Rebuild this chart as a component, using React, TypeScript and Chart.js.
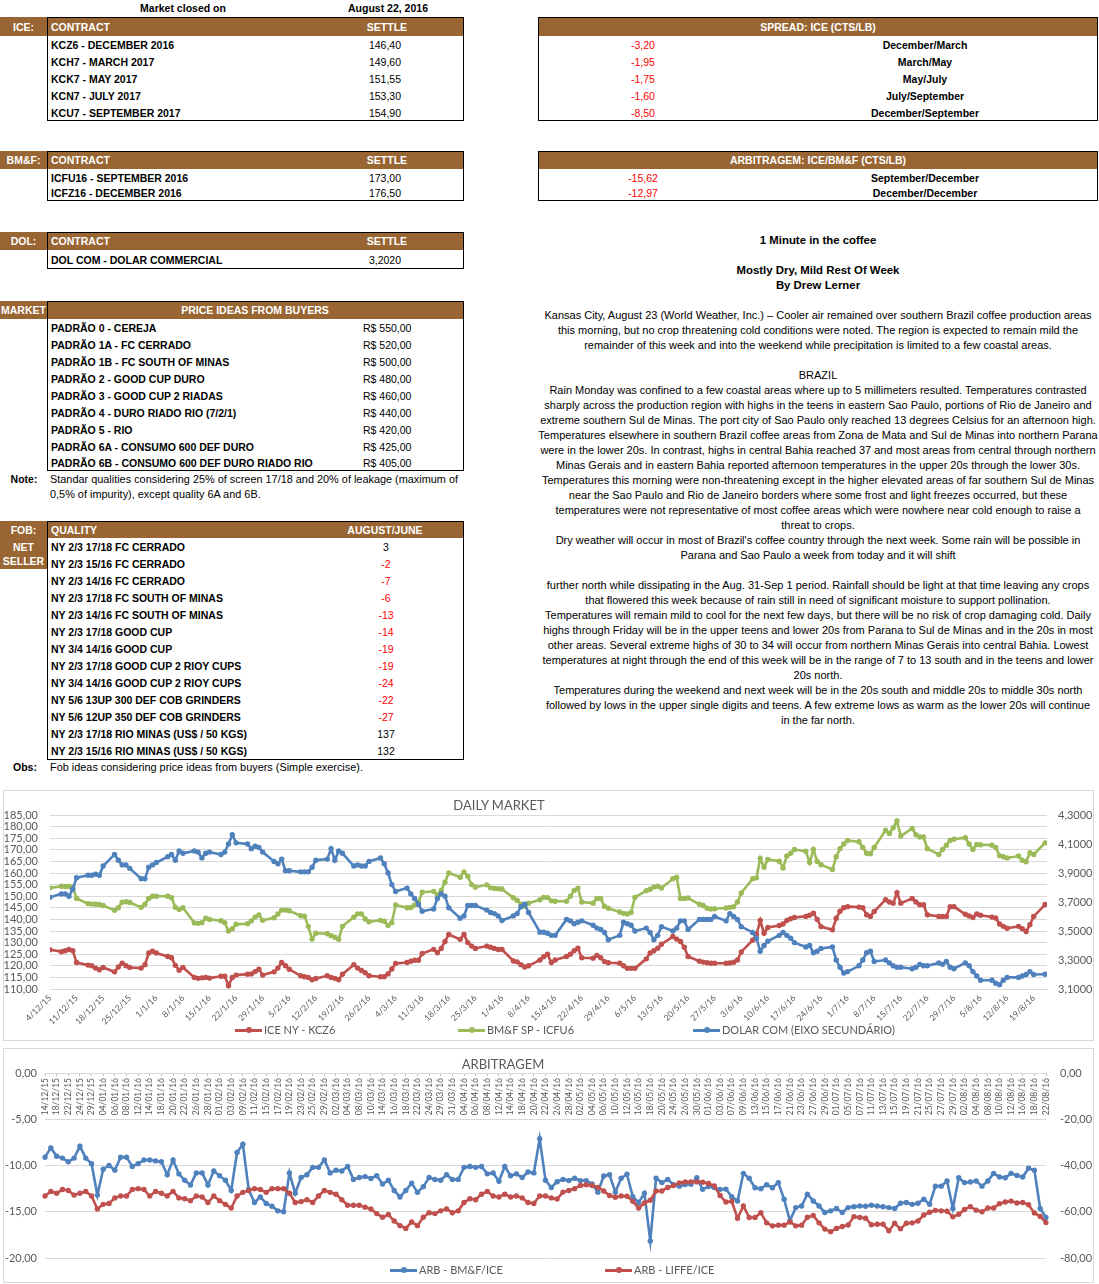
import React, { useEffect, useRef } from 'react';
import { Chart, registerables } from 'chart.js';

Chart.register(...registerables);

const FONT_TABLE = '"Liberation Sans", Arial, sans-serif';
const FONT_CHART = 'Lato, "Open Sans", sans-serif';
const BROWN = '#996633';
const NEG = '#ff0000';
const AXIS_TEXT = '#595959';
const GRID = '#d9d9d9';
const RED = '#C0504D';
const GREEN = '#9BBB59';
const BLUE = '#4F81BD';

// ---------- tables ----------
const iceContracts = ['KCZ6 - DECEMBER 2016', 'KCH7 - MARCH 2017', 'KCK7 - MAY 2017', 'KCN7 - JULY 2017', 'KCU7 - SEPTEMBER 2017'];
const iceSettles = ['146,40', '149,60', '151,55', '153,30', '154,90'];
const spreadValues = ['-3,20', '-1,95', '-1,75', '-1,60', '-8,50'];
const spreadLabels = ['December/March', 'March/May', 'May/July', 'July/September', 'December/September'];
const bmfContracts = ['ICFU16 - SEPTEMBER 2016', 'ICFZ16 - DECEMBER 2016'];
const bmfSettles = ['173,00', '176,50'];
const arbTableValues = ['-15,62', '-12,97'];
const arbTableLabels = ['September/December', 'December/December'];
const dolContracts = ['DOL COM - DOLAR COMMERCIAL'];
const dolSettles = ['3,2020'];
const priceQualities = [
  'PADRÃO 0 - CEREJA', 'PADRÃO 1A - FC CERRADO', 'PADRÃO 1B - FC SOUTH OF MINAS', 'PADRÃO 2 - GOOD CUP DURO',
  'PADRÃO 3 - GOOD CUP 2 RIADAS', 'PADRÃO 4 - DURO RIADO RIO (7/2/1)', 'PADRÃO 5 - RIO',
  'PADRÃO 6A - CONSUMO 600 DEF DURO', 'PADRÃO 6B - CONSUMO 600 DEF DURO RIADO RIO',
];
const priceValues = ['R$ 550,00', 'R$ 520,00', 'R$ 500,00', 'R$ 480,00', 'R$ 460,00', 'R$ 440,00', 'R$ 420,00', 'R$ 425,00', 'R$ 405,00'];
const fobQualities = [
  'NY 2/3 17/18 FC CERRADO', 'NY 2/3 15/16 FC CERRADO', 'NY 2/3 14/16 FC CERRADO', 'NY 2/3 17/18 FC SOUTH OF MINAS',
  'NY 2/3 14/16 FC SOUTH OF MINAS', 'NY 2/3 17/18 GOOD CUP', 'NY 3/4 14/16 GOOD CUP', 'NY 2/3 17/18 GOOD CUP 2 RIOY CUPS',
  'NY 3/4 14/16 GOOD CUP 2 RIOY CUPS', 'NY 5/6 13UP 300 DEF COB GRINDERS', 'NY 5/6 12UP 350 DEF COB GRINDERS',
  'NY 2/3 17/18 RIO MINAS (US$ / 50 KGS)', 'NY 2/3 15/16 RIO MINAS (US$ / 50 KGS)',
];
const fobValues = [3, -2, -7, -6, -13, -14, -19, -19, -24, -22, -27, 137, 132];

const articleLines: [string, boolean][] = [
  ['1 Minute in the coffee', true],
  ['', false],
  ['Mostly Dry, Mild Rest Of Week', true],
  ['By Drew Lerner', true],
  ['', false],
  ['Kansas City, August 23 (World Weather, Inc.) – Cooler air remained over southern Brazil coffee production areas', false],
  ['this morning, but no crop threatening cold conditions were noted. The region is expected to remain mild the', false],
  ['remainder of this week and into the weekend while precipitation is limited to a few coastal areas.', false],
  ['', false],
  ['BRAZIL', false],
  ['Rain Monday was confined to a few coastal areas where up to 5 millimeters resulted. Temperatures contrasted', false],
  ['sharply across the production region with highs in the teens in eastern Sao Paulo, portions of Rio de Janeiro and', false],
  ['extreme southern Sul de Minas. The port city of Sao Paulo only reached 13 degrees Celsius for an afternoon high.', false],
  ['Temperatures elsewhere in southern Brazil coffee areas from Zona de Mata and Sul de Minas into northern Parana', false],
  ['were in the lower 20s. In contrast, highs in central Bahia reached 37 and most areas from central through northern', false],
  ['Minas Gerais and in eastern Bahia reported afternoon temperatures in the upper 20s through the lower 30s.', false],
  ['Temperatures this morning were non-threatening except in the higher elevated areas of far southern Sul de Minas', false],
  ['near the Sao Paulo and Rio de Janeiro borders where some frost and light freezes occurred, but these', false],
  ['temperatures were not representative of most coffee areas which were nowhere near cold enough to raise a', false],
  ['threat to crops.', false],
  ["Dry weather will occur in most of Brazil's coffee country through the next week. Some rain will be possible in", false],
  ['Parana and Sao Paulo a week from today and it will shift', false],
  ['', false],
  ['further north while dissipating in the Aug. 31-Sep 1 period. Rainfall should be light at that time leaving any crops', false],
  ['that flowered this week because of rain still in need of significant moisture to support pollination.', false],
  ['Temperatures will remain mild to cool for the next few days, but there will be no risk of crop damaging cold. Daily', false],
  ['highs through Friday will be in the upper teens and lower 20s from Parana to Sul de Minas and in the 20s in most', false],
  ['other areas. Several extreme highs of 30 to 34 will occur from northern Minas Gerais into central Bahia. Lowest', false],
  ['temperatures at night through the end of this week will be in the range of 7 to 13 south and in the teens and lower', false],
  ['20s north.', false],
  ['Temperatures during the weekend and next week will be in the 20s south and middle 20s to middle 30s north', false],
  ['followed by lows in the upper single digits and teens. A few extreme lows as warm as the lower 20s will continue', false],
  ['in the far north.', false],
];

// ---------- DAILY MARKET data (one value per weekday, week starting on the Friday tick) ----------
const dailyTickLabels = [
  '4/12/15', '11/12/15', '18/12/15', '25/12/15', '1/1/16', '8/1/16', '15/1/16', '22/1/16', '29/1/16', '5/2/16',
  '12/2/16', '19/2/16', '26/2/16', '4/3/16', '11/3/16', '18/3/16', '25/3/16', '1/4/16', '8/4/16', '15/4/16',
  '22/4/16', '29/4/16', '6/5/16', '13/5/16', '20/5/16', '27/5/16', '3/6/16', '10/6/16', '17/6/16', '24/6/16',
  '1/7/16', '8/7/16', '15/7/16', '22/7/16', '29/7/16', '5/8/16', '12/8/16', '19/8/16',
];
const leftTicks = [110, 115, 120, 125, 130, 135, 140, 145, 150, 155, 160, 165, 170, 175, 180, 185];
const rightTicks = [3.1, 3.3, 3.5, 3.7, 3.9, 4.1, 4.3];

const iceNY = [
  126.9, 126.1, 126.5, 127, 126.5, 121.4, 120.3, 120, 119, 118.3, 119.3, 117.4, 119.5, 121.1, 120,
  119.3, 119, 120.5, 125.5, 126.3, 125.5, 124, 123.5, 120.2, 118.1, 119.3, 115, 114.6, 114.8, 115,
  114.7, 115.5, 115.5, 111.4, 115, 116, 116.4, 116.5, 117.5, 118.5, 116, 117.4, 119, 121.4, 120,
  118.5, 115.7, 115.3, 115, 114, 114.5, 115.7, 115, 114.6, 114, 116.4, 120.5, 119, 118, 117,
  115.7, 115.3, 115.3, 116.5, 118.6, 121, 121.4, 122, 122.4, 122.4, 125.3, 127.1, 125.6, 127.5, 130.5,
  133.5, 131.4, 133.5, 130, 128.5, 127.5, 128.5, 128, 127.5, 127, 127, 122.1, 121.7, 120.5, 119.5,
  120, 122.5, 123.9, 125, 121.4, 122.5, 124, 125, 126.5, 127.6, 123.5, 123.3, 124.5, 123.5, 121.8,
  121.3, 121.1, 120, 118.9, 118.9, 118.9, 123, 125.5, 126.5, 127.6, 129.3, 132.6, 131.5, 130.5, 128,
  124, 122, 121.6, 121.3, 121.1, 121.1, 121.1, 121.2, 121.5, 122.5, 126, 131, 133.5, 139.5, 134,
  136.5, 137.4, 138, 139.5, 140.3, 140.8, 141.3, 141.8, 142.7, 140, 136.9, 135.5, 140.5, 143.5, 145,
  145.5, 145.3, 145, 142, 141.3, 143.4, 148.5, 147.5, 147, 151.5, 147, 149, 147.5, 146.3, 146.3,
  142, 141.3, 141.3, 141.3, 145.5, 145.5, 142.2, 141.5, 140.8, 142.3, 141.8, 141, 140.6, 138, 137,
  136.2, 137, 136, 134.8, 137.7, 141.3, 146.4,
];
const bmfSP = [
  153.6, 154.3, 154.2, 154.2, 154, 149, 146.8, 146.6, 146.5, 146.4, 146, 143.9, 145, 147.4, 147.6,
  147.3, 145.2, 146.5, 149, 150, 150, 150, 149.3, 145.2, 144.3, 145, 138.5, 138.3, 138.6, 140.5,
  140, 139.4, 138.6, 135, 136, 137.9, 138.1, 139.3, 141, 141.9, 139.6, 140.7, 142.3, 144, 144,
  143.7, 141.6, 141.4, 137, 131.5, 134, 133.8, 133, 132.3, 131.4, 137, 141, 142.4, 142.4, 140.2,
  139, 139.6, 139.2, 137.4, 138.6, 146.2, 145, 145.1, 146.2, 147.5, 151.7, 152.1, 150.5, 152.5, 156,
  160, 158.2, 160.5, 158.5, 155, 153.9, 154.9, 153.6, 153.3, 153.2, 153.1, 149.3, 148.2, 146.6, 145.7,
  147, 148.5, 149.5, 149.4, 148, 147.8, 147.8, 150, 152.5, 153.5, 147.5, 147, 149, 149, 145.6,
  144.8, 143.2, 142.6, 142.3, 143, 149.5, 152.4, 153, 154, 154.3, 153.5, 157.5, 158.2, 149, 149,
  149.2, 146.5, 146, 144.8, 144.5, 144.6, 144.9, 145.2, 145.5, 147.5, 151.4, 157.5, 157.9, 166.3, 162.5,
  165.8, 165.1, 162.2, 167.3, 168.5, 170.1, 169.4, 164.5, 170.1, 165, 163.6, 161.5, 167, 170.5, 172.5,
  174, 173.5, 171, 168.5, 168.3, 171, 178.4, 177, 179.5, 182.4, 175.9, 179.2, 176.5, 175.5, 175.5,
  170.5, 168, 170.1, 172, 174, 174.6, 175.2, 172.5, 170.1, 172.3, 172.2, 172, 171, 167.5, 167,
  166.5, 167.3, 165.5, 164.8, 168.7, 168, 173,
];
const dolarCom = [
  3.732, 3.756, 3.756, 3.74, 3.788, 3.868, 3.884, 3.884, 3.892, 3.884, 3.948, 4.028, 3.988, 3.956, 3.956,
  3.932, 3.86, 3.86, 3.94, 3.956, 3.972, 4.012, 4.028, 3.988, 4.052, 4.036, 4.052, 4.044, 4.004, 4.036,
  4.044, 4.028, 4.044, 4.1, 4.164, 4.108, 4.1, 4.068, 4.084, 4.076, 4.044, 3.98, 3.964, 3.996, 3.916,
  3.916, 3.908, 3.908, 3.908, 3.94, 3.988, 3.996, 4.068, 3.988, 4.052, 4.036, 3.948, 3.956, 3.948, 3.948,
  3.98, 4.004, 3.964, 3.9, 3.82, 3.772, 3.796, 3.756, 3.724, 3.684, 3.636, 3.652, 3.724, 3.756, 3.74,
  3.66, 3.588, 3.604, 3.676, 3.676, 3.676, 3.644, 3.628, 3.62, 3.604, 3.572, 3.604, 3.62, 3.668, 3.684,
  3.628, 3.492, 3.492, 3.484, 3.47, 3.47, 3.58, 3.57, 3.55, 3.56, 3.57, 3.54, 3.52, 3.51, 3.49,
  3.44, 3.47, 3.56, 3.55, 3.54, 3.5, 3.52, 3.49, 3.44, 3.47, 3.53, 3.5, 3.52, 3.57, 3.57,
  3.51, 3.58, 3.58, 3.58, 3.58, 3.6, 3.57, 3.62, 3.6, 3.58, 3.53, 3.49, 3.45, 3.36, 3.4,
  3.43, 3.47, 3.49, 3.47, 3.45, 3.42, 3.39, 3.4, 3.35, 3.36, 3.38, 3.39, 3.3, 3.25, 3.21,
  3.22, 3.26, 3.3, 3.35, 3.36, 3.29, 3.3, 3.28, 3.26, 3.25, 3.25, 3.24, 3.25, 3.27, 3.26,
  3.26, 3.28, 3.27, 3.29, 3.25, 3.24, 3.28, 3.26, 3.22, 3.19, 3.16, 3.16, 3.14, 3.13, 3.16,
  3.18, 3.18, 3.19, 3.2, 3.22, 3.2, 3.202,
];

// ---------- ARBITRAGEM data ----------
const arbLabels = [
  '14/12/15', '18/12/15', '22/12/15', '24/12/15', '29/12/15', '04/01/16', '06/01/16', '08/01/16', '12/01/16', '14/01/16',
  '18/01/16', '20/01/16', '22/01/16', '26/01/16', '28/01/16', '01/02/16', '03/02/16', '09/02/16', '11/02/16', '15/02/16',
  '17/02/16', '19/02/16', '23/02/16', '25/02/16', '29/02/16', '02/03/16', '04/03/16', '08/03/16', '10/03/16', '14/03/16',
  '16/03/16', '18/03/16', '22/03/16', '24/03/16', '29/03/16', '31/03/16', '04/04/16', '06/04/16', '08/04/16', '12/04/16',
  '14/04/16', '18/04/16', '20/04/16', '22/04/16', '26/04/16', '28/04/16', '02/05/16', '04/05/16', '06/05/16', '10/05/16',
  '12/05/16', '16/05/16', '18/05/16', '20/05/16', '24/05/16', '26/05/16', '30/05/16', '01/06/16', '03/06/16', '07/06/16',
  '09/06/16', '13/06/16', '15/06/16', '17/06/16', '21/06/16', '23/06/16', '27/06/16', '29/06/16', '01/07/16', '05/07/16',
  '07/07/16', '11/07/16', '13/07/16', '15/07/16', '19/07/16', '21/07/16', '25/07/16', '27/07/16', '29/07/16', '02/08/16',
  '04/08/16', '08/08/16', '10/08/16', '12/08/16', '16/08/16', '18/08/16', '22/08/16',
];
const arbLeftTicks = [-20, -15, -10, -5, 0];
const arbRightTicks = [-80, -60, -40, -20, 0];
const arbBmfIce = [
  -9.1, -8.1, -9.0, -9.2, -9.6, -9.2, -7.9, -9.2, -9.8, -13.2,
  -10.4, -10.0, -10.5, -9.1, -9.1, -10.1, -9.8, -9.4, -9.4, -9.5,
  -9.6, -11.0, -9.4, -10.9, -11.6, -12.1, -10.8, -10.8, -12.1, -10.6,
  -11.1, -11.6, -12.7, -8.6, -7.7, -12.6, -14.0, -13.4, -14.1, -14.4,
  -14.9, -15.0, -10.8, -13.0, -11.3, -11.0, -10.2, -10.2, -9.4, -10.8,
  -10.5, -10.6, -10.1, -11.5, -11.3, -11.2, -11.4, -11.1, -12.0, -11.6,
  -12.7, -13.4, -12.7, -11.9, -12.9, -12.3, -11.3, -11.5, -11.6, -11.0,
  -11.5, -11.5, -10.2, -10.1, -10.2, -10.1, -10.9, -10.8, -11.7, -10.1,
  -11.1, -10.9, -11.3, -10.7, -10.8, -7.1, -11.6,
  -12.38, -11.75, -11.5, -11.63, -11.38, -11.63, -11.63, -12.0, -12.88, -11.13,
  -11.0, -12.88, -11.38, -10.95, -13.38, -14.0, -13.0, -18.15, -11.38, -11.85,
  -11.5, -12.08, -12.23, -12.05, -12.03, -11.33, -12.58, -12.28, -12.38, -12.58,
  -12.55, -13.38, -13.83, -10.85, -11.38, -12.4, -12.5, -12.08, -12.4, -11.85,
  -13.65, -15.98, -14.55, -14.38, -13.1, -13.83, -14.38, -15.08, -14.9, -14.65,
  -15.08, -14.55, -14.45, -14.38, -14.4, -14.3, -14.38, -14.45, -14.55, -14.65,
  -14.08, -14.0, -14.2, -14.08, -13.65, -14.2, -12.23, -12.23, -11.68, -14.65,
  -11.33, -11.85, -11.78, -11.68, -12.23, -11.68, -10.85, -11.25, -11.33, -10.85,
  -11.08, -11.25, -10.3, -10.5, -14.65, -15.62,
];
const arbLiffeIce = [
  -53.2, -51.2, -52, -50.4, -50.8, -52.8, -52, -51.2, -53.2, -58.8,
  -56.8, -56.4, -54, -53.2, -53.2, -50.4, -50, -50.4, -53.2, -51.2,
  -52, -53.2, -51.2, -54, -54.4, -55.2, -53.2, -53.6, -56, -53.2,
  -55.2, -56.8, -58.4, -53.2, -51.6, -50.8, -50, -50.4, -51.6, -50,
  -50, -50, -52, -56, -55.6, -54.8, -56, -53.2, -50.8, -51.6,
  -52.4, -54.8, -57.2, -57.2, -57.2, -58, -58.8, -60.8, -62.4, -61.2,
  -64, -66, -67.2, -64.4, -66, -62.4, -60.4, -60.8, -59.6, -58.8,
  -60.4, -59.6, -56, -54.4, -54.8, -52.4, -51.2, -53.2, -53.6, -52.4,
  -53.6, -53.2, -54, -56, -56.4, -53.2, -53.2,
  -54, -54.5, -51.5, -50.8, -50, -48.6, -48.3, -48.6, -49.5, -51,
  -53, -53.7, -53.2, -53.3, -55.5, -58.4, -56.2, -55, -51, -51,
  -49.5, -48.7, -47.5, -47.1, -47.1, -47.1, -47.2, -47.8, -48.8, -53,
  -55.8, -55.5, -62.8, -57.5, -62.5, -62.5, -60.4, -64.8, -66.1, -65.8,
  -65.8, -64.4, -66.1, -65.8, -62.4, -61.6, -64.8, -67.5, -68.6, -67.2,
  -66.4, -65.7, -62.1, -62.5, -62.8, -65.6, -65.4, -65.4, -68.2, -65,
  -67.4, -65, -64.8, -64, -61.4, -60.2, -59.4, -59.6, -59.8, -62.2,
  -61.1, -59, -57.8, -59.3, -60, -58.4, -58.4, -56.5, -55.8, -55.4,
  -56.2, -56, -57, -60.5, -62, -64.7,
];

// ---------- helpers ----------
type TP = { x: number; y: number; text: string; align?: 'left' | 'center' | 'right'; bold?: boolean; color?: string; size?: number; w?: number; font?: string };
function T({ x, y, text, align = 'left', bold = true, color = '#000', size = 10.5, w = 420, font = FONT_TABLE }: TP) {
  const left = align === 'left' ? x : align === 'center' ? x - w / 2 : x - w;
  return (
    <div style={{ position: 'absolute', left, top: y - 7, width: w, height: 14, lineHeight: '14px', textAlign: align, fontWeight: bold ? 700 : 400, color, fontSize: size, whiteSpace: 'nowrap', fontFamily: font }}>
      {text}
    </div>
  );
}
function Rect({ x, y, w, h, bg, border }: { x: number; y: number; w: number; h: number; bg?: string; border?: string }) {
  return <div style={{ position: 'absolute', left: x, top: y, width: w, height: h, background: bg || 'transparent', border: border || 'none', boxSizing: 'border-box' }} />;
}
function LegendItem({ x, y, color, label }: { x: number; y: number; color: string; label: string }) {
  return (
    <>
      <div style={{ position: 'absolute', left: x, top: y - 1.5, width: 27, height: 3, background: color }} />
      <div style={{ position: 'absolute', left: x + 10.5, top: y - 3, width: 6, height: 6, borderRadius: 3, background: color }} />
      <T x={x + 29} y={y} text={label} bold={false} color={AXIS_TEXT} size={11} font={FONT_CHART} />
    </>
  );
}

const fmtComma = (v: number, d: number) => v.toFixed(d).replace('.', ',');

function DailyChart() {
  const ref = useRef<HTMLCanvasElement>(null);
  useEffect(() => {
    const days: number[] = dailyTickLabels.flatMap((_, k) => (k < dailyTickLabels.length - 1 ? [0, 3, 4, 5, 6].map((o) => 7 * k + o) : [7 * k, 7 * k + 3]));
    const pts = (vals: number[]) => vals.map((v, i) => ({ x: days[i], y: v }));
    const font = { family: FONT_CHART, size: 11 };
    const chart = new Chart(ref.current!, {
      type: 'line',
      data: {
        datasets: [
          { label: 'ICE NY - KCZ6', data: pts(iceNY), borderColor: RED, backgroundColor: RED, yAxisID: 'y', order: 3 },
          { label: 'BM&F SP - ICFU6', data: pts(bmfSP), borderColor: GREEN, backgroundColor: GREEN, yAxisID: 'y', order: 2 },
          { label: 'DOLAR COM (EIXO SECUNDÁRIO)', data: pts(dolarCom), borderColor: BLUE, backgroundColor: BLUE, yAxisID: 'y1', order: 1 },
        ],
      },
      options: {
        responsive: false,
        animation: false,
        layout: { padding: { top: 25, left: 0, right: 0, bottom: 0 } },
        plugins: { legend: { display: false }, title: { display: false }, tooltip: { enabled: false } },
        elements: {
          line: { tension: 0, borderWidth: 2.6 },
          point: { radius: 2.7, borderWidth: 0, hoverRadius: 2.7 },
        },
        scales: {
          x: {
            type: 'linear', position: 'bottom', min: 0, max: 262.5,
            afterBuildTicks: (s: any) => { s.ticks = dailyTickLabels.map((_, i) => ({ value: i * 7 })); },
            afterFit: (s: any) => { s.height = 51; },
            grid: { display: false, drawTicks: false },
            border: { display: true, color: GRID },
            ticks: { autoSkip: false, minRotation: 45, maxRotation: 45, padding: 4, color: AXIS_TEXT, font: { family: FONT_CHART, size: 8.5 }, callback: (_v: any, i: number) => dailyTickLabels[i] },
          },
          y: {
            position: 'left', min: 110, max: 185,
            afterBuildTicks: (s: any) => { s.ticks = leftTicks.map((v) => ({ value: v })); },
            afterFit: (s: any) => { s.width = 47; },
            grid: { color: GRID, drawTicks: false },
            border: { display: false },
            ticks: { autoSkip: false, padding: 12, color: AXIS_TEXT, font, callback: (v: any) => fmtComma(Number(v), 2) },
          },
          y1: {
            position: 'right', min: 3.1, max: 4.3,
            afterBuildTicks: (s: any) => { s.ticks = rightTicks.map((v) => ({ value: v })); },
            afterFit: (s: any) => { s.width = 47; },
            grid: { display: false, drawTicks: false },
            border: { display: false },
            ticks: { autoSkip: false, padding: 11, color: AXIS_TEXT, font, callback: (v: any) => fmtComma(Number(v), 4) },
          },
        },
      } as any,
    });
    return () => chart.destroy();
  }, []);
  return <canvas ref={ref} width={1091} height={250} style={{ position: 'absolute', left: 3, top: 790, width: 1091, height: 250 }} />;
}

function ArbChart() {
  const ref = useRef<HTMLCanvasElement>(null);
  useEffect(() => {
    const cats = arbBmfIce.map((_, i) => (i % 2 === 0 ? arbLabels[i / 2] : ''));
    const font = { family: FONT_CHART, size: 11 };
    const chart = new Chart(ref.current!, {
      type: 'line',
      data: {
        labels: cats,
        datasets: [
          { label: 'ARB - BM&F/ICE', data: arbBmfIce, borderColor: BLUE, backgroundColor: BLUE, yAxisID: 'y', order: 2 },
          { label: 'ARB - LIFFE/ICE', data: arbLiffeIce, borderColor: RED, backgroundColor: RED, yAxisID: 'y1', order: 1 },
        ],
      },
      options: {
        responsive: false,
        animation: false,
        layout: { padding: { top: 25, left: 0, right: 0, bottom: 24 } },
        plugins: { legend: { display: false }, title: { display: false }, tooltip: { enabled: false } },
        elements: {
          line: { tension: 0, borderWidth: 2.6 },
          point: { radius: 2.7, borderWidth: 0, hoverRadius: 2.7 },
        },
        scales: {
          x: {
            type: 'category', axis: 'x', position: { y: 0 }, offset: false,
            afterFit: (s: any) => { s.height = 0; },
            grid: { display: true, drawOnChartArea: false, drawTicks: true, tickLength: 3, color: '#bfbfbf' },
            border: { display: false },
            ticks: { autoSkip: false, minRotation: 90, maxRotation: 90, padding: 2, color: AXIS_TEXT, font: { family: FONT_CHART, size: 8.5 }, callback: (_v: any, i: number) => (i % 2 === 0 ? arbLabels[i / 2] : null) },
          },
          y: {
            position: 'left', min: -20, max: 0,
            afterBuildTicks: (s: any) => { s.ticks = arbLeftTicks.map((v) => ({ value: v })); },
            afterFit: (s: any) => { s.width = 42; },
            grid: { color: GRID, drawTicks: false },
            border: { display: false },
            ticks: { autoSkip: false, padding: 8, color: AXIS_TEXT, font, callback: (v: any) => fmtComma(Number(v), 2) },
          },
          y1: {
            position: 'right', min: -80, max: 0,
            afterBuildTicks: (s: any) => { s.ticks = arbRightTicks.map((v) => ({ value: v })); },
            afterFit: (s: any) => { s.width = 48; },
            grid: { display: false, drawTicks: false },
            border: { display: false },
            ticks: { autoSkip: false, padding: 14, color: AXIS_TEXT, font, callback: (v: any) => fmtComma(Number(v), 2) },
          },
        },
      } as any,
    });
    return () => chart.destroy();
  }, []);
  return <canvas ref={ref} width={1091} height={234} style={{ position: 'absolute', left: 3, top: 1048, width: 1091, height: 234 }} />;
}

function HeaderBar({ top, h, label, labelW = 47, right = 464 }: { top: number; h: number; label: string; labelW?: number; right?: number }) {
  return (
    <>
      <Rect x={0} y={top} w={right} h={h} bg={BROWN} />
      <T x={labelW / 2} y={top + h / 2} text={label} align="center" color="#fff" w={60} />
    </>
  );
}

const REG = 10.9;

export default function App() {
  const rowsIce = iceContracts.map((_, i) => 44.5 + 17 * i);
  const rowsBmf = [177.5, 192.5];
  const rowsPrice = priceQualities.map((_, i) => (i < 8 ? 328 + 17 * i : 462.5));
  const rowsFob = fobQualities.map((_, i) => 547 + 17 * i);
  return (
    <div style={{ position: 'absolute', left: 0, top: 0, width: 1099, height: 1284, background: '#fff', overflow: 'hidden', fontFamily: FONT_TABLE }}>
      {/* title line */}
      <T x={183} y={8} text="Market closed on" align="center" />
      <T x={388} y={8} text="August 22, 2016" align="center" />

      {/* ICE table */}
      <HeaderBar top={17} h={19} label="ICE:" />
      <T x={51} y={26.5} text="CONTRACT" color="#fff" />
      <T x={387} y={26.5} text="SETTLE" align="center" color="#fff" w={120} />
      <Rect x={47} y={17} w={417} h={104} border="1px solid #000" />
      {iceContracts.map((c, i) => <T key={c} x={51} y={rowsIce[i]} text={c} />)}
      {iceSettles.map((s, i) => <T key={s} x={385} y={rowsIce[i]} text={s} align="center" bold={false} w={100} />)}

      {/* SPREAD table */}
      <Rect x={538} y={17} w={560} h={19} bg={BROWN} />
      <T x={818} y={26.5} text="SPREAD: ICE (CTS/LB)" align="center" color="#fff" />
      <Rect x={538} y={17} w={560} h={104} border="1px solid #000" />
      {spreadValues.map((s, i) => <T key={i} x={643} y={rowsIce[i]} text={s} align="center" bold={false} color={NEG} w={100} />)}
      {spreadLabels.map((s, i) => <T key={s} x={925} y={rowsIce[i]} text={s} align="center" />)}

      {/* BM&F table */}
      <HeaderBar top={151} h={18} label="BM&F:" />
      <T x={51} y={160} text="CONTRACT" color="#fff" />
      <T x={387} y={160} text="SETTLE" align="center" color="#fff" w={120} />
      <Rect x={47} y={151} w={417} h={50} border="1px solid #000" />
      {bmfContracts.map((c, i) => <T key={c} x={51} y={rowsBmf[i]} text={c} />)}
      {bmfSettles.map((s, i) => <T key={s} x={385} y={rowsBmf[i]} text={s} align="center" bold={false} w={100} />)}

      {/* ARBITRAGEM table */}
      <Rect x={538} y={151} w={560} h={18} bg={BROWN} />
      <T x={818} y={160} text="ARBITRAGEM: ICE/BM&F (CTS/LB)" align="center" color="#fff" />
      <Rect x={538} y={151} w={560} h={50} border="1px solid #000" />
      {arbTableValues.map((s, i) => <T key={s} x={643} y={rowsBmf[i]} text={s} align="center" bold={false} color={NEG} w={100} />)}
      {arbTableLabels.map((s, i) => <T key={s} x={925} y={rowsBmf[i]} text={s} align="center" />)}

      {/* DOL table */}
      <HeaderBar top={232} h={18} label="DOL:" />
      <T x={51} y={241} text="CONTRACT" color="#fff" />
      <T x={387} y={241} text="SETTLE" align="center" color="#fff" w={120} />
      <Rect x={47} y={232} w={417} h={37} border="1px solid #000" />
      {dolContracts.map((c) => <T key={c} x={51} y={259.5} text={c} />)}
      {dolSettles.map((s) => <T key={s} x={385} y={259.5} text={s} align="center" bold={false} w={100} />)}

      {/* PRICE IDEAS table */}
      <HeaderBar top={301} h={18} label="MARKET" />
      <T x={255} y={310} text="PRICE IDEAS FROM BUYERS" align="center" color="#fff" />
      <Rect x={47} y={301} w={417} h={170} border="1px solid #000" />
      {priceQualities.map((c, i) => <T key={c} x={51} y={rowsPrice[i]} text={c} />)}
      {priceValues.map((s, i) => <T key={i} x={363} y={rowsPrice[i]} text={s} bold={false} w={100} />)}
      <T x={24} y={478.5} text="Note:" align="center" w={60} />
      <T x={50} y={478.5} text="Standar qualities considering 25% of screen 17/18 and 20% of leakage (maximum of" bold={false} size={REG} w={500} />
      <T x={50} y={493.5} text="0,5% of impurity), except quality 6A and 6B." bold={false} size={REG} w={500} />

      {/* FOB table */}
      <HeaderBar top={521} h={17} label="FOB:" />
      <T x={51} y={529.5} text="QUALITY" color="#fff" />
      <T x={385} y={529.5} text="AUGUST/JUNE" align="center" color="#fff" w={140} />
      <Rect x={0} y={538} w={47} h={31} bg={BROWN} />
      <T x={23.5} y={546.5} text="NET" align="center" color="#fff" w={60} />
      <T x={23.5} y={561} text="SELLER" align="center" color="#fff" w={60} />
      <Rect x={47} y={521} w={417} h={239} border="1px solid #000" />
      {fobQualities.map((c, i) => <T key={c} x={51} y={rowsFob[i]} text={c} />)}
      {fobValues.map((v, i) => <T key={i} x={386} y={rowsFob[i]} text={String(v)} align="center" bold={false} color={v < 0 ? NEG : '#000'} w={100} />)}
      <T x={25} y={767} text="Obs:" align="center" w={60} />
      <T x={50} y={767} text="Fob ideas considering price ideas from buyers (Simple exercise)." bold={false} size={REG} w={500} />

      {/* article */}
      {articleLines.map(([line, bold], i) =>
        line ? <T key={i} x={818} y={240 + 15 * i} text={line} align="center" bold={bold} size={bold ? 11.4 : 11} w={600} /> : null,
      )}

      {/* DAILY MARKET chart */}
      <Rect x={3} y={790} w={1091} h={251} border={`1px solid ${GRID}`} />
      <DailyChart />
      <T x={499} y={805} text="DAILY MARKET" align="center" bold={false} color={AXIS_TEXT} size={13} font={FONT_CHART} w={200} />
      <LegendItem x={235} y={1030} color={RED} label="ICE NY - KCZ6" />
      <LegendItem x={458} y={1030} color={GREEN} label="BM&F SP - ICFU6" />
      <LegendItem x={693} y={1030} color={BLUE} label="DOLAR COM (EIXO SECUNDÁRIO)" />

      {/* ARBITRAGEM chart */}
      <Rect x={3} y={1048} w={1091} h={235} border={`1px solid ${GRID}`} />
      <ArbChart />
      <T x={503} y={1064} text="ARBITRAGEM" align="center" bold={false} color={AXIS_TEXT} size={13} font={FONT_CHART} w={200} />
      <LegendItem x={390} y={1270} color={BLUE} label="ARB - BM&F/ICE" />
      <LegendItem x={605} y={1270} color={RED} label="ARB - LIFFE/ICE" />
    </div>
  );
}
